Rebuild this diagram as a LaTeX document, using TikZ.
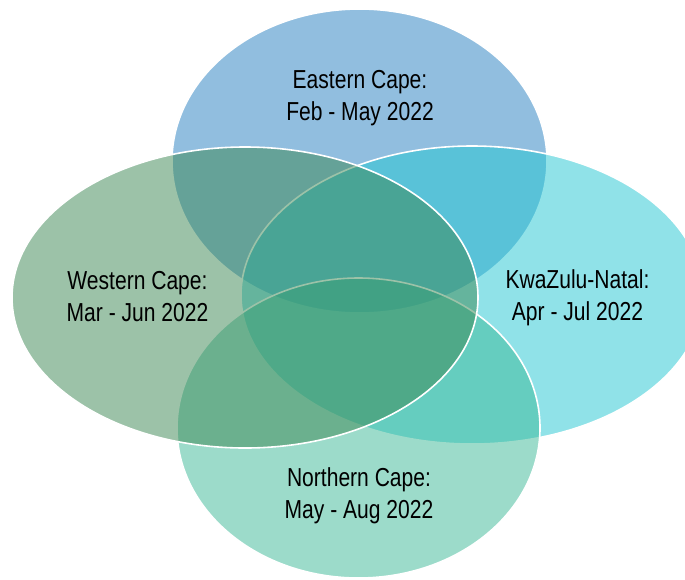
\documentclass[tikz,border=0pt]{standalone}
\usepackage{fontspec}
\setmainfont{Liberation Sans}[FakeStretch=0.81]
\begin{document}
\begin{tikzpicture}[x=1pt,y=-1pt,
  venn/.style={draw=white, line width=1.6pt, fill opacity=0.5},
  lbl/.style={align=center, font=\fontsize{26}{32}\selectfont, text=black, inner sep=0pt}]
\definecolor{ecC}{RGB}{37,127,193}
\definecolor{wcC}{RGB}{59,135,83}
\definecolor{kzC}{RGB}{35,199,211}
\definecolor{ncC}{RGB}{59,185,151}
\useasboundingbox (0,0) rectangle (685,579);
\fill[white] (0,0) rectangle (685,579);
\begin{scope}
\clip (0,0) rectangle (685,579);
\path[venn, fill=ecC] (359.5,161) ellipse [x radius=187.5, y radius=152];
\path[venn, fill=kzC] (472,295) ellipse [x radius=231, y radius=149];
\path[venn, fill=ncC] (358.5,428) ellipse [x radius=181.5, y radius=150];
\path[venn, fill=wcC] (245,297.5) ellipse [x radius=233, y radius=150.5];
\end{scope}
\node[lbl] (ec) at (360,98) {Eastern Cape:\\Feb - May 2022};
\node[lbl] (wc) at (137.5,297) {Western Cape:\\Mar - Jun 2022};
\node[lbl] (kz) at (577.5,298) {KwaZulu-Natal:\\Apr - Jul 2022};
\node[lbl] (nc) at (359,496) {Northern Cape:\\May - Aug 2022};
\end{tikzpicture}
\end{document}
